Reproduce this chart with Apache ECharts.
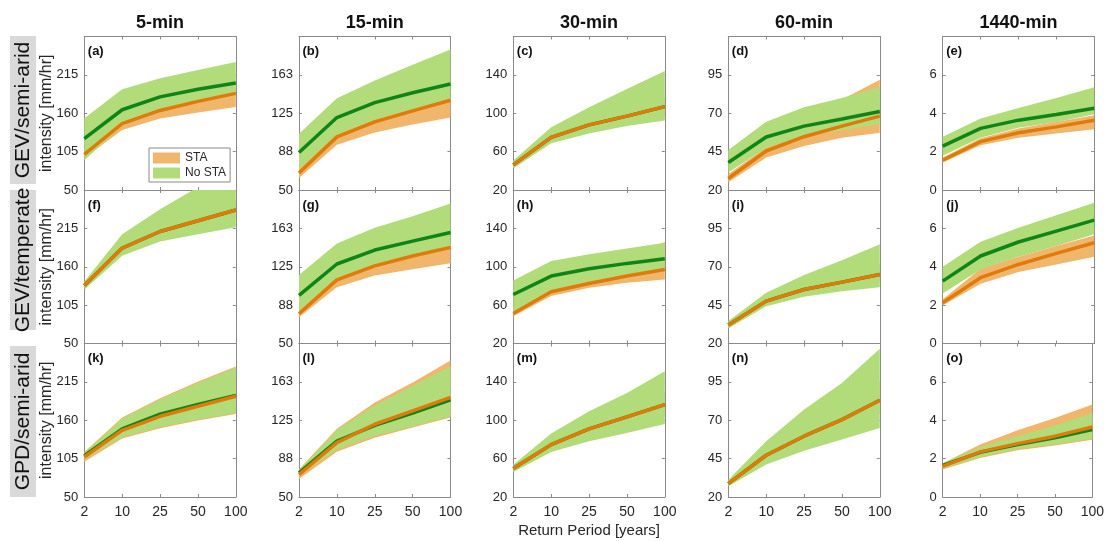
<!DOCTYPE html>
<html><head><meta charset="utf-8">
<script src="https://cdn.jsdelivr.net/npm/echarts@6/dist/echarts.min.js"></script>
<style>html,body{margin:0;padding:0;background:#fff}#c{width:1107px;height:541px}</style>
</head><body><div id="c"></div>
<script>
// ---------------- data ----------------
const categories = ['2', '10', '25', '50', '100'];
const durations = ['5-min', '15-min', '30-min', '60-min', '1440-min'];
const regions = ['GEV/semi-arid', 'GEV/temperate', 'GPD/semi-arid'];
const panelLetters = ['(a)','(b)','(c)','(d)','(e)','(f)','(g)','(h)','(i)','(j)','(k)','(l)','(m)','(n)','(o)'];
const yMin = [50, 50, 20, 20, 0];
const yMax = [270, 200, 180, 120, 8];
const yStep = [55, 37.5, 40, 25, 2];
const seriesNames = ['STA', 'No STA'];

// STA (orange) central estimate, per panel a..o
const staMid = [
  [101, 145, 164, 177, 188.5],
  [66.6, 101.9, 116.6, 127.3, 137.7],
  [46.2, 74.8, 87.9, 97, 106.9],
  [27.5, 45.4, 54.7, 61.6, 68.1],
  [1.55, 2.52, 2.98, 3.29, 3.64],
  [133.3, 186.7, 210.5, 226, 241.4],
  [79.1, 112.2, 125.8, 135.5, 143.9],
  [51.3, 73.9, 82.6, 90.3, 97.2],
  [32, 47.6, 55.2, 60, 65],
  [2.12, 3.43, 4.12, 4.7, 5.25],
  [107.4, 145.6, 165.7, 180, 194.4],
  [71.9, 103.1, 121.1, 134.2, 147.3],
  [49.6, 74.6, 91, 103.5, 116.3],
  [28.7, 47.2, 59.6, 70.4, 83],
  [1.6, 2.35, 2.78, 3.17, 3.65]
];
const staLow = [
  [96, 136, 152.5, 161, 169],
  [61.7, 94.2, 106.2, 114, 120.8],
  [44, 71, 82, 90, 97],
  [25, 41.1, 48.7, 54, 57.3],
  [1.43, 2.33, 2.72, 2.95, 3.16],
  [130, 181, 203, 216, 229],
  [75.6, 105, 116.4, 122.5, 128.4],
  [48.5, 69.4, 78.1, 83.3, 86.8],
  [30.8, 45.8, 52.5, 56.5, 60],
  [1.98, 3.11, 3.72, 4.12, 4.52],
  [100.7, 133.7, 148.5, 159.5, 169.1],
  [67.7, 94.2, 108, 117.8, 127.6],
  [47.5, 70, 83, 93, 104],
  [27.8, 44, 55, 64, 74],
  [1.43, 2.03, 2.43, 2.68, 2.99]
];
const staHigh = [
  [107, 152, 172, 185, 196],
  [71, 107, 121, 132, 140],
  [48.5, 79, 94, 105, 117],
  [30.5, 48, 58, 79, 91.8],
  [1.7, 2.7, 3.2, 3.55, 3.9],
  [137, 193, 220, 238, 255],
  [84, 117, 130, 139, 147],
  [58, 82, 92, 110, 125.7],
  [33.5, 50, 59, 66, 72],
  [2.3, 3.9, 4.52, 5.08, 5.63],
  [114.5, 164, 191.5, 215.5, 237],
  [77, 116.8, 142.4, 162, 183.3],
  [51.5, 80, 100, 115, 130],
  [30, 51, 66, 80, 95],
  [1.76, 2.73, 3.48, 4.12, 4.82]
];
// No STA (green)
const noStaMid = [
  [123.5, 165, 183.5, 194.5, 203.5],
  [86.7, 120.8, 135.4, 145, 153.6],
  [46.2, 74.8, 87.9, 97, 106.9],
  [37.9, 54.5, 61.6, 66.3, 71.1],
  [2.29, 3.21, 3.64, 3.93, 4.26],
  [133.3, 186.7, 210.5, 226, 241.4],
  [97, 127.7, 141.3, 150, 158.5],
  [71.1, 90.3, 97.9, 103.5, 108.3],
  [32, 47.6, 55.2, 60, 65],
  [3.25, 4.56, 5.29, 5.86, 6.43],
  [109.3, 147.6, 168.6, 182.5, 195.4],
  [73.6, 104.7, 120.1, 131.9, 145],
  [49.6, 74.6, 91, 103.5, 116.3],
  [28.7, 47.2, 59.6, 70.4, 83],
  [1.65, 2.33, 2.73, 3.08, 3.51]
];
const noStaLow = [
  [92.5, 142, 162, 175, 186],
  [70, 104, 119, 129, 138],
  [42.4, 68.6, 79, 86.6, 92.4],
  [31.4, 47.6, 55, 59, 63],
  [1.78, 2.72, 3.24, 3.53, 3.95],
  [127.1, 175.7, 196.2, 206.7, 216.7],
  [82, 114, 127, 137, 145],
  [53.7, 75.3, 85, 92, 99],
  [29.8, 44.3, 50.4, 54.1, 56.7],
  [2.61, 3.86, 4.52, 5.08, 5.7],
  [103.6, 135.6, 150.4, 161, 170.5],
  [71, 96.5, 109.6, 118.8, 128.6],
  [46.1, 67, 78.1, 86.8, 96.2],
  [27, 41.1, 50.2, 57.4, 65],
  [1.46, 2.09, 2.5, 2.73, 3.03]
];
const noStaHigh = [
  [153, 194.5, 210, 222, 233.5],
  [105, 139.6, 157, 172.5, 187.3],
  [50.7, 85.5, 106.2, 125.2, 144.1],
  [46.1, 64.4, 73.9, 80, 87.2],
  [2.78, 3.72, 4.28, 4.79, 5.36],
  [139, 206.7, 242.4, 274, 292],
  [117, 147.8, 163, 174.4, 186.7],
  [85.7, 105.9, 112.9, 119.1, 125],
  [34.6, 53, 64.6, 74.3, 84.6],
  [4.0, 5.3, 6.03, 6.68, 7.34],
  [113.1, 162.4, 189.6, 213.6, 235.1],
  [76.2, 115.5, 139.7, 158.7, 177.7],
  [53.7, 86.1, 109.4, 128.5, 151.1],
  [31.3, 56.3, 77, 94.3, 116.5],
  [1.74, 2.61, 3.17, 3.72, 4.38]
];

// ---------------- style ----------------
const FONT = 'Liberation Sans, Arial, Helvetica, sans-serif';
const C_STA_BAND = '#f0b66b';
const C_NOSTA_BAND = '#b2dc79';
const C_STA_LINE = '#e07b0b';
const C_NOSTA_LINE = '#0f8418';
const AXIS = '#8a8a8a';
const TXT = '#262626';
const lefts = [84.3, 299, 513.3, 728.3, 942.7];
const tops = [36.5, 190, 343.5];
const W = 151.5, H = 153.5;

const grids = [], xAxes = [], yAxes = [], series = [], graphics = [];

for (let r = 0; r < 3; r++) {
  for (let c = 0; c < 5; c++) {
    const p = r * 5 + c;
    grids.push({ left: lefts[c], top: tops[r], width: W, height: H, containLabel: false });
    const tick = { show: true, inside: true, length: 3, lineStyle: { color: AXIS } };
    const line = { show: true, onZero: false, lineStyle: { color: AXIS, width: 1 } };
    xAxes.push({
      type: 'category', gridIndex: p, data: categories, boundaryGap: false, position: 'bottom',
      axisLine: line, axisTick: tick,
      axisLabel: { show: r === 2, interval: 0, fontSize: 14, color: TXT, fontFamily: FONT, margin: 8 },
      splitLine: { show: false }
    });
    xAxes.push({
      type: 'category', gridIndex: p, data: categories, boundaryGap: false, position: 'top',
      axisLine: line, axisTick: tick, axisLabel: { show: false }, splitLine: { show: false }
    });
    yAxes.push({
      type: 'value', gridIndex: p, min: yMin[c], max: yMax[c], interval: yStep[c], position: 'left',
      axisLine: line, axisTick: tick, splitLine: { show: false },
      axisLabel: { show: true, showMaxLabel: false, showMinLabel: true, fontSize: 13, color: TXT, fontFamily: FONT, margin: 6,
        formatter: v => String(Math.round(v)) }
    });
    yAxes.push({
      type: 'value', gridIndex: p, min: yMin[c], max: yMax[c], interval: yStep[c], position: 'right',
      axisLine: line, axisTick: tick, splitLine: { show: false }, axisLabel: { show: false }
    });
    const xi = p * 2, yi = p * 2;
    const band = (name, lo, hi, color) => [
      { type: 'line', name: name + ' base', xAxisIndex: xi, yAxisIndex: yi, data: lo, stack: name + p,
        symbol: 'none', silent: true, lineStyle: { width: 0, opacity: 0 }, z: 2 },
      { type: 'line', name: name, xAxisIndex: xi, yAxisIndex: yi, data: hi.map((v, i) => +(v - lo[i]).toFixed(4)),
        stack: name + p, symbol: 'none', silent: true, lineStyle: { width: 0, opacity: 0 },
        itemStyle: { color }, areaStyle: { color, opacity: 1 }, z: 2 }
    ];
    series.push(...band(seriesNames[0], staLow[p], staHigh[p], C_STA_BAND));
    series.push(...band(seriesNames[1], noStaLow[p], noStaHigh[p], C_NOSTA_BAND));
    series.push({ type: 'line', name: 'No STA line', xAxisIndex: xi, yAxisIndex: yi, data: noStaMid[p],
      symbol: 'none', silent: true, lineStyle: { width: 3.5, color: C_NOSTA_LINE }, itemStyle: { color: C_NOSTA_LINE }, z: 3 });
    series.push({ type: 'line', name: 'STA line', xAxisIndex: xi, yAxisIndex: yi, data: staMid[p],
      symbol: 'none', silent: true, lineStyle: { width: 3.5, color: C_STA_LINE }, itemStyle: { color: C_STA_LINE }, z: 3 });
    graphics.push({ type: 'text', x: lefts[c] + 3.5, y: tops[r] + 15, z: 10,
      style: { text: panelLetters[p], font: 'bold 13px ' + FONT, fill: '#111', textAlign: 'left', textVerticalAlign: 'middle' } });
  }
}

// column titles
durations.forEach((d, c) => graphics.push({ type: 'text', x: lefts[c] + W / 2, y: 23, z: 10,
  style: { text: d, font: 'bold 18px ' + FONT, fill: '#111', textAlign: 'center', textVerticalAlign: 'middle' } }));

// row labels
const boxTop = [36, 190, 346], boxH = [148, 140, 151];
regions.forEach((reg, r) => {
  graphics.push({ type: 'rect', shape: { x: 10, y: boxTop[r], width: 26, height: boxH[r] }, style: { fill: '#d9d9d9' }, z: 5 });
  graphics.push({ type: 'text', x: 23.5, y: boxTop[r] + boxH[r] / 2, rotation: Math.PI / 2, z: 10,
    style: { text: reg, font: '21px ' + FONT, fill: '#111', textAlign: 'center', textVerticalAlign: 'middle' } });
  graphics.push({ type: 'text', x: 47, y: tops[r] + H / 2, rotation: Math.PI / 2, z: 10,
    style: { text: 'intensity [mm/hr]', font: '16px ' + FONT, fill: TXT, textAlign: 'center', textVerticalAlign: 'middle' } });
});

// x axis title
graphics.push({ type: 'text', x: lefts[2] + W / 2, y: 531, z: 10,
  style: { text: 'Return Period [years]', font: '15px ' + FONT, fill: TXT, textAlign: 'center', textVerticalAlign: 'middle' } });

const chart = echarts.init(document.getElementById('c'), null, { renderer: 'canvas' });
chart.setOption({
  animation: false,
  backgroundColor: '#fff',
  textStyle: { fontFamily: FONT },
  grid: grids, xAxis: xAxes, yAxis: yAxes, series,
  legend: {
    left: 149, top: 148, orient: 'vertical', selectedMode: false,
    data: [
      { name: seriesNames[0], icon: 'rect', itemStyle: { color: C_STA_BAND, borderWidth: 0 } },
      { name: seriesNames[1], icon: 'rect', itemStyle: { color: C_NOSTA_BAND, borderWidth: 0 } }
    ],
    itemWidth: 27, itemHeight: 11, itemGap: 3, padding: [4, 4, 3, 4],
    borderColor: AXIS, borderWidth: 1, backgroundColor: '#fff', z: 20,
    textStyle: { fontSize: 12, color: TXT, fontFamily: FONT }
  },
  graphic: { elements: graphics }
});
</script></body></html>
